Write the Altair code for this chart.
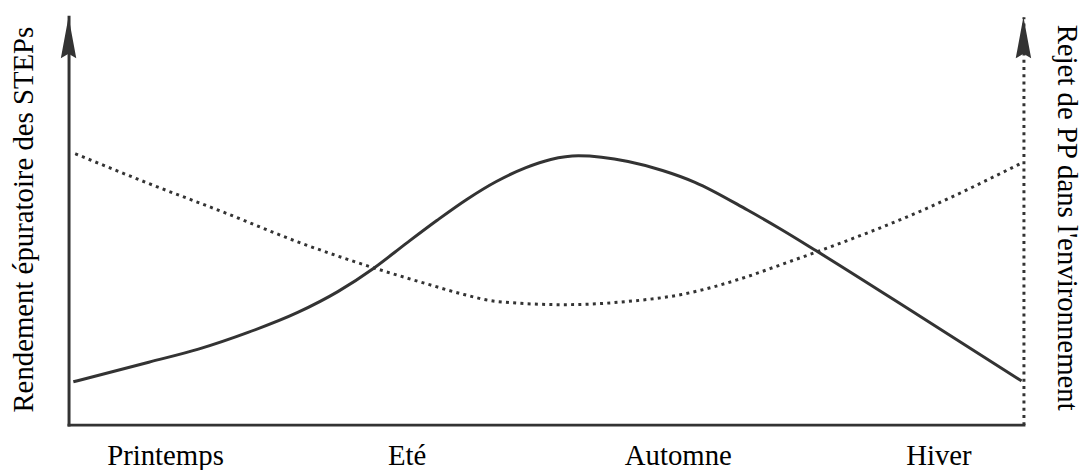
import altair as alt
import pandas as pd

# Solid curve: "Rendement épuratoire des STEPs" (x and y on a 0-100 scale)
solid_x = [0.5, 8.4, 13.6, 18.8, 24.0, 28.2, 32.0, 35.4, 38.6, 41.7, 44.8, 47.9, 50.5, 53.4,
           58.6, 62.2, 65.6, 71.1, 74.6, 78.3, 89.0, 99.8]
solid_y = [10.5, 15.3, 18.5, 22.6, 27.5, 32.6, 38.4, 44.5, 50.1, 55.2, 59.6, 63.0, 65.0, 65.9,
           64.5, 62.3, 59.4, 52.6, 47.9, 42.6, 26.8, 10.7]

# Dotted curve: "Rejet de PP dans l'environnement"
dot_x = [0.7, 8.4, 16.2, 24.0, 32.0, 37.8, 41.4, 44.8, 51.8, 58.6, 64.2, 71.1, 74.6, 78.3, 89.0, 99.7]
dot_y = [66.4, 59.1, 52.1, 44.8, 38.4, 34.3, 31.9, 30.2, 29.4, 30.2, 31.9, 36.3, 39.2, 42.3, 52.1, 64.0]

# Season labels and their positions along x
season_labels = ["Printemps", "Eté", "Automne", "Hiver"]
season_pos = [10.1, 35.4, 63.8, 91.1]

left_title = "Rendement épuratoire des STEPs"
right_title = "Rejet de PP dans l'environnement"

INK = "#333333"
FONT = "Liberation Serif"
FS = 29

solid_df = pd.DataFrame({"x": solid_x, "y": solid_y})
dot_df = pd.DataFrame({"x": dot_x, "y": dot_y})
arrow_df = pd.DataFrame({"x": [0, 100], "y": [100, 100]})

label_expr = " : ".join(
    f"datum.value == {p} ? '{l}'" for p, l in zip(season_pos, season_labels)
) + " : ''"

x_axis = alt.Axis(
    values=season_pos, labelExpr=label_expr, ticks=False, grid=False,
    domain=True, domainColor=INK, domainWidth=3, domainCap="square",
    labelFont=FONT, labelFontSize=FS, labelColor="black",
    labelBaseline="alphabetic", labelPadding=40, labelFlush=False,
    labelOverlap=False, labelBound=False, title=None,
)
x_scale = alt.Scale(domain=[0, 100], nice=False, zero=False)
y_scale = alt.Scale(domain=[0, 100], nice=False, zero=False)

x_enc = alt.X("x:Q", scale=x_scale, axis=x_axis)

solid = alt.Chart(solid_df).mark_line(
    color=INK, strokeWidth=3, interpolate="monotone"
).encode(
    x=x_enc,
    y=alt.Y("y:Q", scale=y_scale, axis=alt.Axis(
        orient="left", ticks=False, labels=False, grid=False,
        domainColor=INK, domainWidth=3, domainCap="square",
        title=left_title, titleFont=FONT, titleFontSize=FS,
        titleFontWeight="normal", titleColor="black", titleAngle=-90,
        titleX=-45, titleY=204, titleAlign="center", titleBaseline="middle",
    )),
)

dotted = alt.Chart(dot_df).mark_line(
    color=INK, strokeWidth=3, strokeDash=[3, 4.3], strokeCap="butt",
    interpolate="monotone"
).encode(
    x=x_enc,
    y=alt.Y("y:Q", scale=y_scale, axis=alt.Axis(
        orient="right", ticks=False, labels=False, grid=False,
        domainColor=INK, domainWidth=3, domainDash=[3, 4.3],
        title=right_title, titleFont=FONT, titleFontSize=FS,
        titleFontWeight="normal", titleColor="black", titleAngle=90,
        titleX=43, titleY=202, titleAlign="center", titleBaseline="middle",
    )),
)

arrow_path = "M0,-1 L0.37,1 L0,0.78 L-0.37,1 Z"
arrows = alt.Chart(arrow_df).mark_point(
    shape=arrow_path, size=1764, filled=True, color=INK, opacity=1,
    strokeWidth=0, yOffset=21,
).encode(
    x=x_enc,
    y=alt.Y("y:Q", scale=y_scale, axis=None),
)

chart = alt.layer(solid, dotted, arrows).resolve_scale(
    y="independent"
).properties(
    width=962, height=411, background="white",
    padding={"left": 61, "top": 7, "right": 60, "bottom": 46},
    autosize=alt.AutoSizeParams(type="none"),
).configure(
    view={"stroke": "transparent", "strokeWidth": 0},
    style={"cell": {"stroke": "transparent", "strokeWidth": 0}},
)

chart.save("out.html", embed_options={"renderer": "svg", "actions": False})
